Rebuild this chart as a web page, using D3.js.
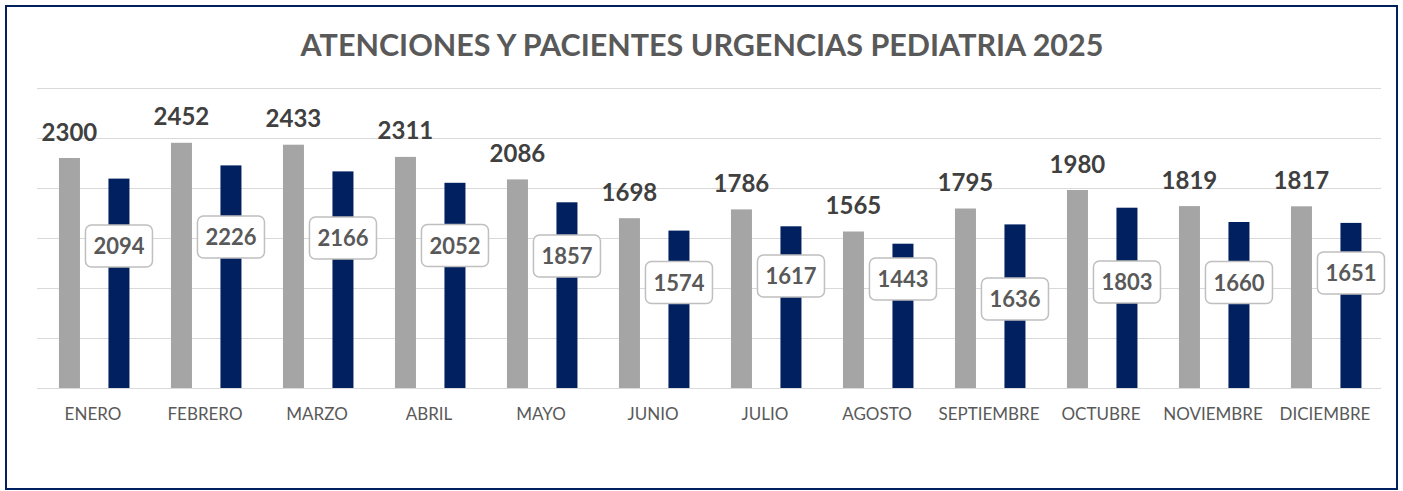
<!DOCTYPE html>
<html>
<head>
<meta charset="utf-8">
<script src="https://cdn.jsdelivr.net/npm/d3@7"></script>
<style>
  body { margin: 0; background: #fff; }
  svg { display: block; font-family: Lato, "Open Sans", sans-serif; }
  .grid line { stroke: #d9d9d9; stroke-width: 1; }
  .cat text { fill: #595959; font-size: 17px; }
</style>
</head>
<body>
<div id="chart"></div>
<script>
// datos
var meses = ["ENERO", "FEBRERO", "MARZO", "ABRIL", "MAYO", "JUNIO", "JULIO",
             "AGOSTO", "SEPTIEMBRE", "OCTUBRE", "NOVIEMBRE", "DICIEMBRE"];
var atenciones = [2300, 2452, 2433, 2311, 2086, 1698, 1786, 1565, 1795, 1980, 1819, 1817];
var pacientes  = [2094, 2226, 2166, 2052, 1857, 1574, 1617, 1443, 1636, 1803, 1660, 1651];
var yTicks = [0, 500, 1000, 1500, 2000, 2500, 3000];

// donde se movieron a mano las etiquetas de pacientes (en unidades del eje)
var anclaEtiqueta = [1420, 1510, 1500, 1425, 1320, 1055, 1120, 1090, 890, 1060, 1055, 1150];

var W = 1403, H = 491;
var margin = {top: 88, left: 37, right: 22, bottom: 103};

var svg = d3.select("#chart").append("svg")
    .attr("width", W)
    .attr("height", H);

// marco
svg.append("rect")
    .attr("x", 6).attr("y", 6)
    .attr("width", 1391).attr("height", 483)
    .attr("fill", "#fff")
    .attr("stroke", "#002060")
    .attr("stroke-width", 2);

svg.append("text")
    .attr("x", 702)
    .attr("y", 56)
    .attr("text-anchor", "middle")
    .attr("font-size", 30.5)
    .attr("font-weight", "bold")
    .attr("fill", "#595959")
    .text("ATENCIONES Y PACIENTES URGENCIAS PEDIATRIA 2025");

var x = d3.scaleBand()
    .domain(meses)
    .range([margin.left, W - margin.right]);

var y = d3.scaleLinear()
    .domain([0, 3000])
    .range([H - margin.bottom, margin.top]);

var bw = x.bandwidth();
var barW = bw * 0.1875;
var offGris = bw * 0.196, offAzul = bw * 0.638;

svg.append("g")
    .attr("class", "grid")
  .selectAll("line")
  .data(yTicks)
  .enter().append("line")
    .attr("x1", x.range()[0])
    .attr("x2", x.range()[1])
    .attr("y1", function(d) { return Math.round(y(d)) + 0.5; })
    .attr("y2", function(d) { return Math.round(y(d)) + 0.5; });

var g = svg.append("g");

g.selectAll("rect.atenciones")
  .data(atenciones)
  .enter().append("rect")
    .attr("class", "atenciones")
    .attr("x", function(d, i) { return x(meses[i]) + offGris; })
    .attr("y", function(d) { return y(d); })
    .attr("width", barW)
    .attr("height", function(d) { return y(0) - y(d); })
    .attr("fill", "#a5a5a5");

g.selectAll("rect.pacientes")
  .data(pacientes)
  .enter().append("rect")
    .attr("class", "pacientes")
    .attr("x", function(d, i) { return x(meses[i]) + offAzul; })
    .attr("y", function(d) { return y(d); })
    .attr("width", barW)
    .attr("height", function(d) { return y(0) - y(d); })
    .attr("fill", "#002060");

// etiquetas atenciones
g.selectAll("text.lblAt")
  .data(atenciones)
  .enter().append("text")
    .attr("class", "lblAt")
    .attr("x", function(d, i) { return x(meses[i]) + offGris + barW / 2; })
    .attr("y", function(d) { return y(d) - 17.5; })
    .attr("text-anchor", "middle")
    .attr("font-size", 24)
    .attr("font-weight", "bold")
    .attr("fill", "#404040")
    .text(function(d) { return d; });

// etiquetas pacientes (recuadro)
var lbl = g.selectAll("g.lblPa")
  .data(pacientes)
  .enter().append("g")
    .attr("class", "lblPa")
    .attr("transform", function(d, i) {
      return "translate(" + (x(meses[i]) + offAzul + barW / 2) + "," + y(anclaEtiqueta[i]) + ")";
    });

lbl.append("rect")
    .attr("x", -33.5).attr("y", -21)
    .attr("width", 67).attr("height", 42)
    .attr("rx", 6)
    .attr("fill", "#fff")
    .attr("stroke", "#bfbfbf")
    .attr("stroke-width", 1.5);

lbl.append("text")
    .attr("y", 8)
    .attr("text-anchor", "middle")
    .attr("font-size", 22)
    .attr("font-weight", "bold")
    .attr("fill", "#595959")
    .text(function(d) { return d; });

// eje de categorias
svg.append("g")
    .attr("class", "cat")
  .selectAll("text")
  .data(meses)
  .enter().append("text")
    .attr("x", function(d) { return x(d) + bw / 2; })
    .attr("y", y(0) + 32)
    .attr("text-anchor", "middle")
    .text(function(d) { return d; });
</script>
</body>
</html>
